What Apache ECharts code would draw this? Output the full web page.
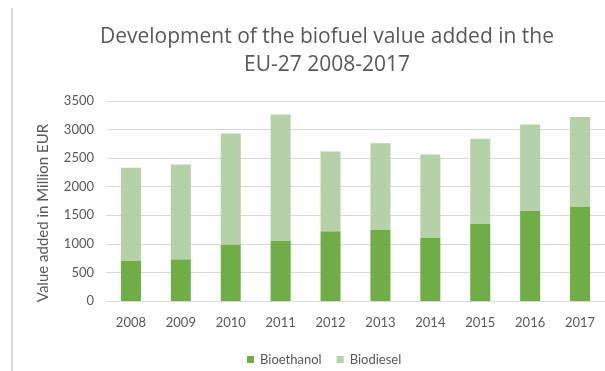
<!DOCTYPE html>
<html>
<head>
<meta charset="utf-8">
<script src="https://cdn.jsdelivr.net/npm/echarts@6/dist/echarts.min.js"></script>
<style>
  html, body { margin: 0; padding: 0; background: #ffffff; }
  #chart { width: 605px; height: 371px; }
</style>
</head>
<body>
<div id="chart"></div>
<script>
// Years on the category axis
var years = ['2008', '2009', '2010', '2011', '2012', '2013', '2014', '2015', '2016', '2017'];
// Value added, million EUR
var bioethanol = [700, 730, 990, 1060, 1220, 1250, 1110, 1355, 1585, 1645];
var biodiesel = [1630, 1660, 1940, 2205, 1395, 1510, 1455, 1485, 1505, 1575];
// Value axis ticks
var yTicks = [0, 500, 1000, 1500, 2000, 2500, 3000, 3500];

var textColor = '#595959';
var fontFamily = 'Lato, "Open Sans", sans-serif';

var chart = echarts.init(document.getElementById('chart'), null, { renderer: 'canvas' });

chart.setOption({
  backgroundColor: '#ffffff',
  animation: false,
  textStyle: { fontFamily: fontFamily },
  title: {
    text: 'Development of the biofuel value added in the\nEU-27 2008-2017',
    left: 322,
    textAlign: 'center',
    top: 18,
    textStyle: {
      fontFamily: '"Open Sans", sans-serif',
      fontSize: 21,
      fontWeight: 'normal',
      color: textColor,
      lineHeight: 28
    }
  },
  legend: {
    data: ['Bioethanol', 'Biodiesel'],
    left: 242,
    top: 348,
    icon: 'rect',
    itemWidth: 7,
    itemHeight: 7,
    itemGap: 15,
    textStyle: { fontFamily: fontFamily, fontSize: 13, color: textColor, padding: [0, 0, 0, 1] }
  },
  grid: {
    left: 106,
    top: 101,
    width: 509,
    height: 200
  },
  xAxis: {
    type: 'category',
    data: years,
    axisLine: { show: true, lineStyle: { color: '#d9d9d9', width: 1 } },
    axisTick: { show: false },
    axisLabel: { color: textColor, fontSize: 13, margin: 15, fontFamily: fontFamily }
  },
  yAxis: {
    type: 'value',
    min: yTicks[0],
    max: yTicks[yTicks.length - 1],
    interval: yTicks[1] - yTicks[0],
    name: 'Value added in Million EUR',
    nameLocation: 'middle',
    nameGap: 55,
    nameTextStyle: {
      color: textColor,
      fontSize: 15,
      fontFamily: fontFamily,
      padding: [0, 24, 0, 0]
    },
    axisLine: { show: false },
    axisTick: { show: false },
    axisLabel: {
      color: textColor,
      fontSize: 13,
      margin: 12,
      fontFamily: fontFamily,
      formatter: function (v) { return String(v); }
    },
    splitLine: { lineStyle: { color: '#d9d9d9', width: 1 } }
  },
  series: [
    {
      name: 'Bioethanol',
      type: 'bar',
      stack: 'total',
      data: bioethanol,
      barWidth: 20,
      itemStyle: { color: '#70AD47' }
    },
    {
      name: 'Biodiesel',
      type: 'bar',
      stack: 'total',
      data: biodiesel,
      barWidth: 20,
      itemStyle: { color: '#B5D1A8' }
    }
  ],
  graphic: [
    {
      type: 'line',
      shape: { x1: 12, y1: 8, x2: 12, y2: 371 },
      style: { stroke: '#d9d9d9', lineWidth: 2 }
    }
  ]
});
</script>
</body>
</html>
